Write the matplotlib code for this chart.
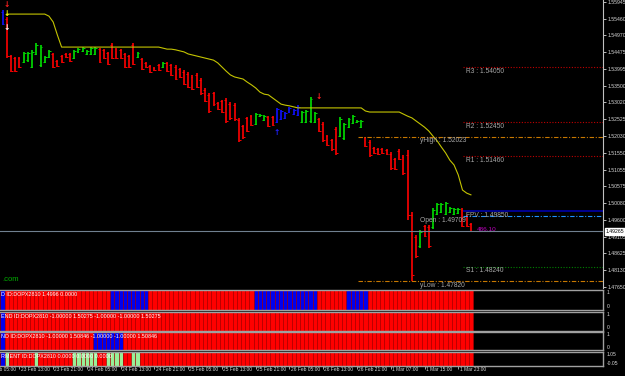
import numpy as np
import matplotlib.pyplot as plt
from matplotlib.transforms import blended_transform_factory as blend

plt.rcParams["font.family"] = ["Liberation Sans", "DejaVu Sans"]

# hourly bars, 23 Feb .. 1 Mar
opens = [1.5566, 1.5545, 1.5436, 1.5430, 1.5430, 1.5420, 1.5424, 1.5406, 1.5444, 1.5410,
         1.5420, 1.5434, 1.5442, 1.5422, 1.5437, 1.5443, 1.5443, 1.5431, 1.5448, 1.5451,
         1.5442, 1.5443, 1.5443, 1.5456, 1.5454, 1.5445, 1.5470, 1.5456, 1.5454, 1.5442,
         1.5436, 1.5470, 1.5434, 1.5427, 1.5417, 1.5408, 1.5403, 1.5411, 1.5405, 1.5416,
         1.5410, 1.5406, 1.5398, 1.5391, 1.5385, 1.5377, 1.5383, 1.5368, 1.5339, 1.5324,
         1.5328, 1.5300, 1.5305, 1.5309, 1.5298, 1.5295, 1.5251, 1.5232, 1.5256, 1.5262,
         1.5240, 1.5262, 1.5251, 1.5259, 1.5259, 1.5246, 1.5254, 1.5257, 1.5274, 1.5268,
         1.5266, 1.5246, 1.5246, 1.5248, 1.5245, 1.5253, 1.5240, 1.5204, 1.5192, 1.5224,
         1.5205, 1.5197, 1.5231, 1.5242, 1.5244, 1.5231, 1.5198, 1.5188, 1.5170, 1.5166,
         1.5166, 1.5163, 1.5153, 1.5136, 1.5162, 1.5144, 1.5150, 1.4975, 1.4910, 1.4883,
         1.4942, 1.4940, 1.4940, 1.4978, 1.4983, 1.4978, 1.4983, 1.4977, 1.4980, 1.4990,
         1.4970, 1.4948]
highs = [1.5571, 1.5551, 1.5440, 1.5434, 1.5434, 1.5449, 1.5449, 1.5455, 1.5475, 1.5469,
         1.5437, 1.5455, 1.5446, 1.5425, 1.5440, 1.5446, 1.5446, 1.5455, 1.5460, 1.5463,
         1.5455, 1.5463, 1.5463, 1.5460, 1.5457, 1.5449, 1.5475, 1.5460, 1.5457, 1.5446,
         1.5440, 1.5475, 1.5449, 1.5431, 1.5420, 1.5411, 1.5405, 1.5414, 1.5420, 1.5420,
         1.5414, 1.5411, 1.5402, 1.5396, 1.5390, 1.5382, 1.5388, 1.5373, 1.5344, 1.5329,
         1.5332, 1.5303, 1.5309, 1.5315, 1.5303, 1.5300, 1.5257, 1.5236, 1.5260, 1.5265,
         1.5271, 1.5268, 1.5265, 1.5262, 1.5262, 1.5286, 1.5280, 1.5274, 1.5289, 1.5283,
         1.5294, 1.5277, 1.5280, 1.5318, 1.5274, 1.5257, 1.5245, 1.5207, 1.5196, 1.5230,
         1.5260, 1.5242, 1.5257, 1.5265, 1.5251, 1.5251, 1.5201, 1.5193, 1.5172, 1.5169,
         1.5169, 1.5166, 1.5158, 1.5140, 1.5166, 1.5149, 1.5164, 1.4983, 1.4916, 1.4931,
         1.4945, 1.4945, 1.4995, 1.5009, 1.5009, 1.5012, 1.4998, 1.4995, 1.4995, 1.4995,
         1.4974, 1.4951]
lows = [1.5527, 1.5431, 1.5390, 1.5390, 1.5402, 1.5417, 1.5420, 1.5402, 1.5440, 1.5405,
        1.5417, 1.5431, 1.5402, 1.5405, 1.5417, 1.5431, 1.5420, 1.5428, 1.5446, 1.5449,
        1.5440, 1.5440, 1.5440, 1.5417, 1.5428, 1.5411, 1.5428, 1.5428, 1.5428, 1.5402,
        1.5402, 1.5411, 1.5431, 1.5396, 1.5402, 1.5388, 1.5393, 1.5393, 1.5402, 1.5390,
        1.5379, 1.5367, 1.5373, 1.5353, 1.5344, 1.5338, 1.5344, 1.5324, 1.5303, 1.5271,
        1.5292, 1.5280, 1.5271, 1.5242, 1.5251, 1.5248, 1.5187, 1.5196, 1.5216, 1.5233,
        1.5236, 1.5260, 1.5248, 1.5230, 1.5233, 1.5242, 1.5251, 1.5254, 1.5271, 1.5265,
        1.5262, 1.5242, 1.5242, 1.5242, 1.5242, 1.5216, 1.5187, 1.5175, 1.5161, 1.5149,
        1.5201, 1.5193, 1.5228, 1.5239, 1.5242, 1.5228, 1.5172, 1.5143, 1.5152, 1.5149,
        1.5152, 1.5149, 1.5105, 1.5105, 1.5134, 1.5091, 1.4960, 1.4782, 1.4849, 1.4878,
        1.4910, 1.4878, 1.4934, 1.4974, 1.4980, 1.4974, 1.4980, 1.4974, 1.4977, 1.4939,
        1.4939, 1.4925]
closes = [1.5531, 1.5436, 1.5394, 1.5394, 1.5405, 1.5445, 1.5445, 1.5450, 1.5470, 1.5464,
          1.5434, 1.5451, 1.5406, 1.5408, 1.5420, 1.5434, 1.5423, 1.5452, 1.5458, 1.5461,
          1.5452, 1.5460, 1.5460, 1.5421, 1.5431, 1.5414, 1.5432, 1.5431, 1.5431, 1.5406,
          1.5406, 1.5415, 1.5446, 1.5400, 1.5405, 1.5391, 1.5395, 1.5396, 1.5417, 1.5394,
          1.5383, 1.5371, 1.5377, 1.5357, 1.5348, 1.5342, 1.5348, 1.5328, 1.5307, 1.5276,
          1.5296, 1.5283, 1.5275, 1.5248, 1.5256, 1.5253, 1.5193, 1.5200, 1.5220, 1.5236,
          1.5268, 1.5266, 1.5262, 1.5233, 1.5236, 1.5282, 1.5277, 1.5271, 1.5286, 1.5280,
          1.5290, 1.5273, 1.5276, 1.5312, 1.5271, 1.5220, 1.5192, 1.5178, 1.5165, 1.5154,
          1.5255, 1.5238, 1.5254, 1.5262, 1.5249, 1.5248, 1.5175, 1.5148, 1.5155, 1.5152,
          1.5155, 1.5152, 1.5110, 1.5109, 1.5138, 1.5096, 1.4975, 1.4800, 1.4855, 1.4925,
          1.4914, 1.4884, 1.4990, 1.5005, 1.5005, 1.5008, 1.4995, 1.4992, 1.4992, 1.4943,
          1.4943, 1.49265]
signal_bars = [0, 65, 66, 67, 68, 69, 70]

# yellow trailing line, starts on bar 1
trail = [1.5559, 1.5559, 1.5559, 1.5559, 1.5559, 1.5559, 1.5559, 1.5559, 1.5559, 1.5559,
         1.5553, 1.5536, 1.5498, 1.5463, 1.5463, 1.5463, 1.5463, 1.5463, 1.5463, 1.5463,
         1.5463, 1.5463, 1.5463, 1.5463, 1.5463, 1.5463, 1.5463, 1.5463, 1.5463, 1.5463,
         1.5463, 1.5463, 1.5463, 1.5463, 1.5463, 1.5463, 1.5463, 1.5460, 1.5457, 1.5457,
         1.5455, 1.5452, 1.5449, 1.5443, 1.5440, 1.5437, 1.5434, 1.5431, 1.5428, 1.5425,
         1.5417, 1.5405, 1.5393, 1.5382, 1.5376, 1.5373, 1.5370, 1.5361, 1.5353, 1.5344,
         1.5332, 1.5326, 1.5324, 1.5315, 1.5306, 1.5297, 1.5294, 1.5292, 1.5289, 1.5286,
         1.5286, 1.5286, 1.5286, 1.5286, 1.5286, 1.5286, 1.5286, 1.5286, 1.5286, 1.5286,
         1.5286, 1.5286, 1.5286, 1.5286, 1.5286, 1.5277, 1.5274, 1.5274, 1.5274, 1.5274,
         1.5274, 1.5274, 1.5274, 1.5274, 1.5268, 1.5262, 1.5257, 1.5248, 1.5239, 1.5230,
         1.5219, 1.5204, 1.5190, 1.5172, 1.5155, 1.5134, 1.5120, 1.5091, 1.5047, 1.5038,
         1.5033]

arrow_bars = [1, 1, 1, 65, 75]
arrow_prices = [1.5587, 1.5561, 1.5521, 1.5213, 1.5318]
arrow_kinds = ["dn_red", "dn_yellow", "dn_white", "up_blue", "dn_red"]

level_names = ["R3", "R2", "yHigh", "R1", "FPV", "Open", "S1", "yLow"]
level_values = [1.54050, 1.52450, 1.52023, 1.51460, 1.49850, 1.49709, 1.48240, 1.47820]

price_ticks = [1.55945, 1.55460, 1.54970, 1.54475, 1.53995, 1.53500, 1.53020, 1.52525,
               1.52030, 1.51550, 1.51055, 1.50575, 1.50080, 1.49600, 1.49105, 1.48625,
               1.48130, 1.47650]
bid = 1.49265
spread_text = "486.10"

time_labels = ["23 Feb 05:00", "23 Feb 13:00", "23 Feb 21:00", "24 Feb 05:00", "24 Feb 13:00",
               "24 Feb 21:00", "25 Feb 05:00", "25 Feb 13:00", "25 Feb 21:00", "26 Feb 05:00",
               "26 Feb 13:00", "26 Feb 21:00", "1 Mar 07:00", "1 Mar 15:00", "1 Mar 23:00"]
time_label_bars = [-4, 4, 12, 20, 28, 36, 44, 52, 60, 68, 76, 84, 92, 100, 108]

# indicator states per run of bars (b = blue, r = red, g = light green)
panel_runs = [
    [("b", 1), ("r", 25), ("b", 9), ("r", 25), ("b", 15), ("r", 7), ("b", 5), ("r", 25)],
    [("b", 1), ("r", 111)],
    [("b", 1), ("r", 21), ("b", 7), ("r", 83)],
    [("b", 1), ("g", 1), ("r", 6), ("g", 1), ("r", 8), ("g", 6), ("r", 2), ("g", 4),
     ("r", 2), ("g", 2), ("r", 79)],
]
panel_titles = [
    "D ID:DOPX2810 1.4996 0.0000",
    "END ID:DOPX2810 -1.00000 1.50275 -1.00000 -1.00000 1.50275",
    "ND ID:DOPX2810 -1.00000 1.50846 -1.00000 -1.00000 1.50846",
    "RMENT ID:DOPX2810 0.0000 0.0000 0.0000",
]
panel_scale = [("1", "0"), ("1", "0"), ("1", "0"), ("1.05", "-0.05")]

W, H = 625, 376
fig = plt.figure(figsize=(6.25, 3.76), dpi=100, facecolor="black")


def box(top, bottom):
    return [0, 1 - bottom / H, 603 / W, (bottom - top) / H]


xlim = (-0.6, 142.3)
axis_grey = "#d8d8d8"
label_grey = "#a8a8a8"

ax = fig.add_axes(box(0, 288))
ax.set_facecolor("black")
ax.set_xlim(*xlim)
ax.set_ylim(1.47619, 1.5600)
for s in ["top", "left", "bottom"]:
    ax.spines[s].set_visible(False)
ax.spines["right"].set_color("#c0c0c0")
ax.spines["right"].set_linewidth(0.8)
ax.set_xticks([])
ax.yaxis.tick_right()
ax.set_yticks(price_ticks)
ax.set_yticklabels(["%.5f" % v for v in price_ticks])
ax.tick_params(axis="y", colors=axis_grey, labelsize=3.7, length=2.5, width=0.6, pad=0.8)
for t in ax.get_yticklines():
    t.set_color("#c0c0c0")

x = np.arange(len(closes))
o = np.array(opens)
c = np.array(closes)
cols = np.where(c >= o, "#00e000", "#ff0000").astype(object)
cols[signal_bars] = "#1010ff"
ax.vlines(x, lows, highs, colors=cols, lw=1.2)
ax.hlines(o, x - 0.45, x, colors=cols, lw=0.7)
ax.hlines(c, x, x + 0.45, colors=cols, lw=0.7)

ax.plot(np.arange(1, len(trail) + 1), trail, color="#c4c400", lw=0.8)

# pivot levels
lv = dict(zip(level_names, level_values))
styles = {
    "R3": dict(color="#c00000", ls=(0, (1, 1.5)), start=109.2, lab=109.8),
    "R2": dict(color="#c00000", ls=(0, (1, 1.5)), start=109.2, lab=109.8),
    "R1": dict(color="#c00000", ls=(0, (1, 1.5)), start=109.2, lab=109.8),
    "S1": dict(color="#008000", ls=(0, (1, 1.5)), start=109.2, lab=109.8),
    "yHigh": dict(color="#c87800", ls=(0, (4, 1.5, 1, 1.5)), start=84.2, lab=98.9),
    "yLow": dict(color="#c87800", ls=(0, (4, 1.5, 1, 1.5)), start=84.2, lab=98.9),
    "FPV": dict(color="#000090", ls="-", start=109.2, lab=109.8),
    "Open": dict(color="#1e90ff", ls=(0, (4, 1.5, 1, 1.5)), start=109.2, lab=98.9),
}
for name in level_names:
    st = styles[name]
    lw = 1.4 if name == "FPV" else 0.8
    ax.hlines(lv[name], st["start"], xlim[1], colors=st["color"], linestyles=st["ls"], lw=lw)
    ax.annotate("%s : %.5f" % (name, lv[name]), (st["lab"], lv[name]), xytext=(0, -0.6),
                textcoords="offset points", ha="left", va="top", fontsize=4.8,
                color=label_grey)

ax.axhline(bid, color="#708090", lw=0.8)
ax.text(1.005, bid, "%.5f" % bid, transform=blend(ax.transAxes, ax.transData),
        ha="left", va="center", fontsize=3.7, color="black", clip_on=False,
        bbox=dict(boxstyle="square,pad=0.2", fc="white", ec="white"))
ax.text(len(closes) + 0.3, 1.4931, spread_text, color="#c000c0", fontsize=4.6,
        ha="left", va="center")
ax.text(0.004, 0.031, ".com", transform=ax.transAxes, color="#00b000", fontsize=5.5,
        ha="left", va="center")

arrow_style = {"dn_red": ("\u2193", "#ff2020"), "dn_yellow": ("\u2193", "#ffff00"),
               "dn_white": ("\u2193", "white"), "up_blue": ("\u2191", "#2020ff")}
for b, p, k in zip(arrow_bars, arrow_prices, arrow_kinds):
    ch, col = arrow_style[k]
    ax.text(b, p, ch, color=col, fontsize=5.5, fontweight="bold", ha="center", va="center",
            family="DejaVu Sans")

# indicator panels
panel_boxes = [(290, 310), (311.5, 330.5), (332, 350), (352, 366)]
state_col = {"r": "#ff0000", "b": "#0000ee", "g": "#98f098"}
for k, (top, bot) in enumerate(panel_boxes):
    pa = fig.add_axes(box(top, bot))
    pa.set_facecolor("black")
    pa.set_xlim(*xlim)
    pa.set_ylim(0, 1)
    pa.set_yticks([])
    for s in pa.spines.values():
        s.set_color("#a0a0a0")
        s.set_linewidth(1.0)
    pa.spines["left"].set_visible(False)
    bars_c = []
    for state, n in panel_runs[k]:
        bars_c += [state_col[state]] * n
    pa.bar(np.arange(len(bars_c)), 1, width=1.0, bottom=0, color=bars_c,
           edgecolor="#b00000", linewidth=0.4)
    pa.text(0.002, 0.88, panel_titles[k], transform=pa.transAxes, ha="left", va="top",
            fontsize=3.9, color="white")
    hi, lo = panel_scale[k]
    pa.text(1.006, 0.85, hi, transform=pa.transAxes, ha="left", va="center",
            fontsize=3.6, color=axis_grey)
    pa.text(1.006, 0.15, lo, transform=pa.transAxes, ha="left", va="center",
            fontsize=3.6, color=axis_grey)
    if k < 3:
        pa.set_xticks([])
    else:
        pa.set_xticks([t for t in time_label_bars if t >= 0])
        pa.set_xticklabels([])
        pa.tick_params(axis="x", colors="#c0c0c0", length=2.5, width=0.6)
        for t, lab in zip(time_label_bars, time_labels):
            pa.text(t + 0.3, -0.08, lab, transform=blend(pa.transData, pa.transAxes),
                    ha="left", va="top", fontsize=3.5, color=axis_grey, clip_on=False)

fig.savefig("out.png", dpi=100, facecolor="black")
